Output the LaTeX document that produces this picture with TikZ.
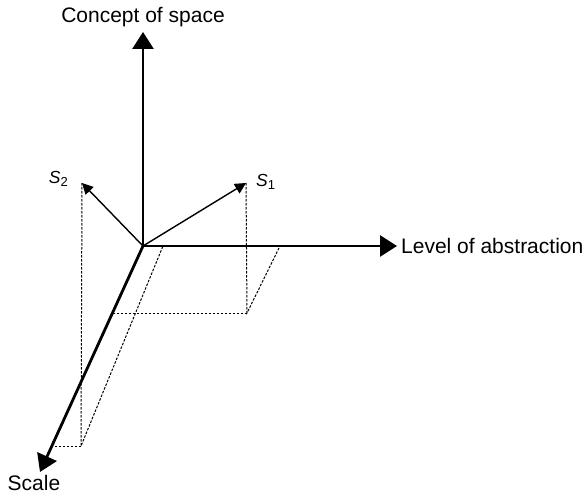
\documentclass[tikz,border=0pt]{standalone}
\usepackage{fontspec}
\setmainfont{Liberation Sans}
\usetikzlibrary{positioning,arrows.meta}
\newcommand{\sidx}[1]{\raisebox{-3.5pt}{\fontsize{13}{13}\selectfont\upshape #1}}
\tikzset{
  axis/.style={-{Triangle[length=17pt,width=21pt]}, line width=2.8pt, line cap=round},
  vec/.style={-{Triangle[length=11pt,width=11pt]}, line width=1.4pt},
  proj/.style={line width=1pt, dash pattern=on 2.5pt off 1.5pt},
  lbl/.style={inner sep=0pt, font=\fontsize{21}{25}\selectfont},
  slbl/.style={inner sep=0pt, font=\fontsize{17.5}{21}\selectfont\itshape}
}

\begin{document}
\begin{tikzpicture}[x=1pt, y=-1pt]
        \useasboundingbox (0,0) rectangle (587,495);
        % axes and vectors
        \coordinate (o) at (143,246);
        \coordinate (conc) at (143,32);
        \coordinate (abst) at (397,246);
        \coordinate (scale) at (40,472);
        \coordinate (s1) at (246,183);
        \coordinate (s2) at (82,183);
        % projections
        \coordinate (p1) at (247,313);
        \coordinate (a1) at (280,246);
        \coordinate (c1) at (113,313);
        \coordinate (p2) at (81,446);
        \coordinate (a2) at (163,246);
        \coordinate (c2) at (52,446);
        \draw[proj] (s1) -- (p1) -- (a1); \draw[proj] (p1) -- (c1);
        \draw[proj] (s2) -- (p2) -- (a2); \draw[proj] (p2) -- (c2);
        \draw[axis] (o) -- (conc);
        \draw[axis] (o) -- (abst);
        \draw[axis] (o) -- (scale);
        \draw[vec] (o) -- (s1);
        \draw[vec] (o) -- (s2);
        \node[lbl, above=5pt of conc] (lconc) {Concept of space};
        \node[lbl, right=4pt of abst] (labst) {Level of abstraction};
        \node[lbl, below=3pt of scale, xshift=-6pt] (lscale) {Scale};
        \node[slbl, anchor=base west] (ls1) at (256,186) {S\sidx{1}};
        \node[slbl, anchor=base east] (ls2) at (68,183) {S\sidx{2}};
      \end{tikzpicture}
\end{document}
